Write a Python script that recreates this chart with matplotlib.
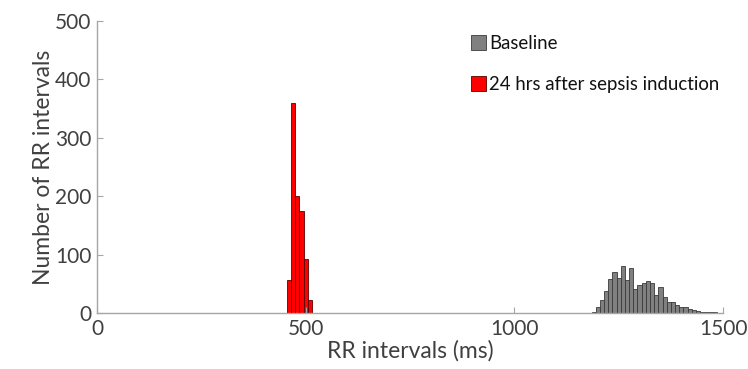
import matplotlib.pyplot as plt
import numpy as np

# Histogram bin centres (ms) and counts
sepsis_centres = [460, 470, 480, 490, 500, 510]
sepsis_counts = [57, 359, 200, 175, 92, 22]

baseline_centres = list(range(1190, 1490, 10))
baseline_counts = [2, 11, 22, 38, 58, 70, 60, 80, 56, 77,
                   41, 48, 52, 55, 51, 30, 45, 27, 18, 18,
                   14, 10, 10, 7, 5, 3, 1, 2, 2, 1]

bin_width = 10
x_ticks = [0, 500, 1000, 1500]
y_ticks = [0, 100, 200, 300, 400, 500]

plt.rcParams["font.family"] = ["Lato", "DejaVu Sans"]
text_color = "#404040"
axis_color = "#a6a6a6"

fig = plt.figure(figsize=(7.48, 3.69), dpi=100)
ax = fig.add_axes([0.1297, 0.1518, 0.8369, 0.7912])

ax.bar(baseline_centres, baseline_counts, width=bin_width,
       color="#808080", edgecolor="#3a3a3a", linewidth=0.6, label="Baseline")
ax.bar(sepsis_centres, sepsis_counts, width=bin_width,
       color="#ff0000", edgecolor="#5a0000", linewidth=0.6,
       label="24 hrs after sepsis induction")

ax.set_xlim(0, 1500)
ax.set_ylim(0, 500)
ax.set_xticks(x_ticks)
ax.set_yticks(y_ticks)

for side in ["top", "right"]:
    ax.spines[side].set_visible(False)
for side in ["left", "bottom"]:
    ax.spines[side].set_color(axis_color)
    ax.spines[side].set_linewidth(1.0)

ax.tick_params(direction="in", length=4, color=axis_color,
               labelcolor=text_color, labelsize=15, pad=4)

ax.set_xlabel("RR intervals (ms)", fontsize=16.5, color=text_color, labelpad=1)
ax.set_ylabel("Number of RR intervals", fontsize=16.5, color=text_color, labelpad=1)

ax.legend(loc="upper left", bbox_to_anchor=(0.57, 1.01), frameon=False,
          fontsize=13.4, handlelength=0.85, handleheight=0.85,
          handletextpad=0.15, labelspacing=1.3, labelcolor="#111111")

fig.savefig("out.png", dpi=100)
